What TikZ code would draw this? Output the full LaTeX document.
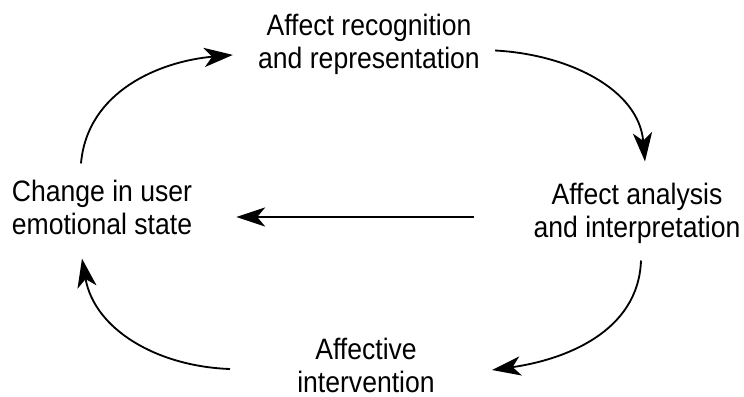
\documentclass[tikz,border=0pt]{standalone}
\usepackage{fontspec}
\setmainfont[FakeStretch=0.9]{Liberation Sans}
\usepackage{tikz}
\usetikzlibrary{arrows.meta, positioning, calc}

\begin{document}
\begin{tikzpicture}[
    x=0.025cm, y=-0.025cm,
    stage/.style={inner sep=0pt, align=center, font=\fontsize{21pt}{23.4pt}\selectfont},
    arrow/.style={-{Stealth[length=0.72cm, width=0.48cm, inset=0.2cm]}, line width=1.3pt}
]
\useasboundingbox (0,0) rectangle (744,396);

% Nodes
\node[stage] (rec) at (369,44.5) {Affect recognition\\and representation};
\node[stage] (ana) at (637,213) {Affect analysis\\and interpretation};
\node[stage] (bot) at (366,365) {Affective\\intervention};
\node[stage] (chg) at (102,207) {Change in user\\emotional state};

% Arrows
\draw[arrow] ([xshift=-0.525cm,yshift=0.4cm]chg.north) to[out=85,in=185] ([xshift=-0.625cm,yshift=-0.26cm]rec.west);
\draw[arrow] ([xshift=0.375cm,yshift=-0.15cm]rec.east) to[out=-3,in=95] ([xshift=0.2cm,yshift=0.525cm]ana.north);
\draw[arrow, shorten <=1.475cm, shorten >=1.1cm] ([yshift=-0.1cm]ana.west) -- ([yshift=-0.1cm]ana.west -| chg.east);
\draw[arrow] ([xshift=0.1cm,yshift=-0.425cm]ana.south) to[out=-92,in=8] ([xshift=1.425cm,yshift=-0.125cm]bot.east);
\draw[arrow] ([xshift=-1.675cm,yshift=-0.1cm]bot.west) to[out=178,in=-80] ([xshift=-0.5cm,yshift=-0.6cm]chg.south);

\end{tikzpicture}
\end{document}
